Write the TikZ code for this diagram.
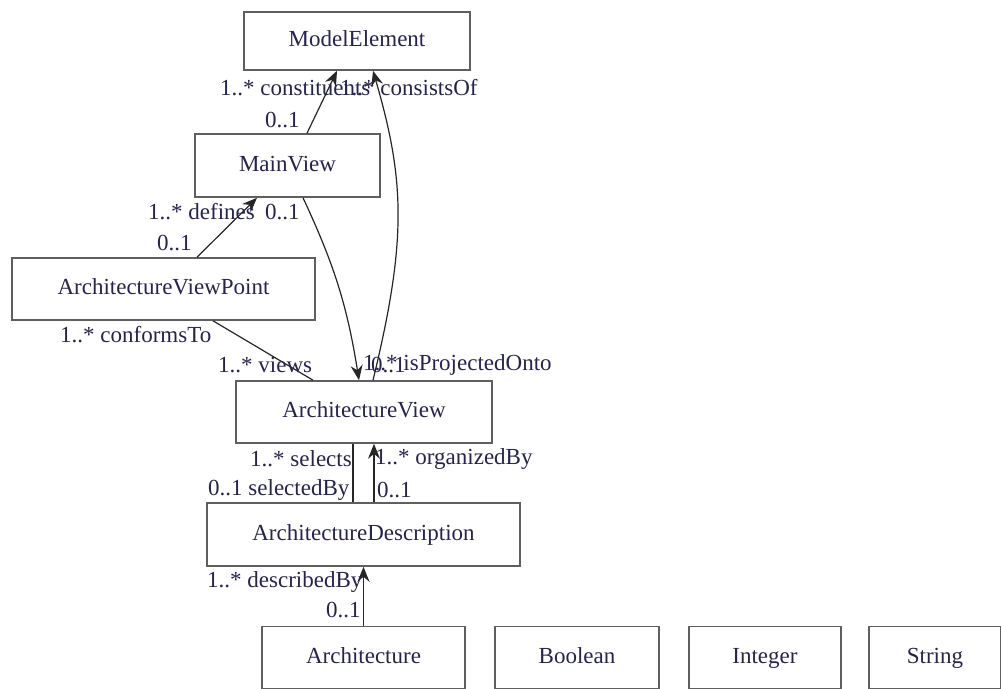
\documentclass[tikz,border=0pt]{standalone}
\usepackage{fontspec}
\setmainfont{Liberation Serif}
\usetikzlibrary{arrows.meta}
\definecolor{boxgray}{RGB}{95,95,95}
\definecolor{inkblue}{RGB}{38,36,72}
\tikzset{
  cls/.style={draw=boxgray,line width=1.6pt,inner sep=0pt,text=inkblue,text height=16pt,text depth=5pt},
  role/.style={inner sep=0pt,anchor=west,text=inkblue},
  assoc/.style={draw=black!85,line width=1.2pt},
  nav/.style={assoc,-{Stealth[length=15pt,width=12pt,inset=5pt]}},
}
\begin{document}
\begin{tikzpicture}[x=1pt,y=-1pt,font=\fontsize{23}{25}\selectfont]
  \useasboundingbox (0,0) rectangle (1001,688);
  \node[cls,minimum width=226pt,minimum height=58pt] (me) at (357,41) {ModelElement};
  \node[cls,minimum width=185pt,minimum height=63pt] (mv) at (287.5,165.5) {MainView};
  \node[cls,minimum width=303pt,minimum height=62pt] (avp) at (163.5,289) {ArchitectureViewPoint};
  \node[cls,minimum width=256pt,minimum height=62pt] (av) at (364,412) {ArchitectureView};
  \node[cls,minimum width=313pt,minimum height=63pt] (ad) at (363.5,534.5) {ArchitectureDescription};
  \foreach \n/\x/\w/\t in {arch/363.5/203/Architecture, bool/577/164/Boolean, int/765/152/Integer, str/935/132/String} {
    \node[cls,minimum width=\w pt,minimum height=62pt] (\n) at (\x,657.5) {\t};
  }
  \draw[nav] ([xshift=19.5pt]mv.north) -- ([xshift=-20pt]me.south);
  \draw[nav] ([xshift=9pt]av.north) .. controls +(34,-140) and +(32,110) .. ([xshift=16pt]me.south);
  \draw[nav] ([xshift=15.5pt]mv.south) to[bend left=8] ([xshift=-5pt]av.north);
  \draw[nav] ([xshift=33.5pt]avp.north) -- ([xshift=-30.5pt]mv.south);
  \draw[assoc] ([xshift=49.5pt]avp.south) -- ([xshift=-51pt]av.north);
  \draw[assoc] ([xshift=-10.5pt]ad.north) -- ([xshift=-11pt]av.south);
  \draw[nav] ([xshift=10.5pt]ad.north) -- ([xshift=10pt]av.south);
  \draw[nav] (arch.north) -- (ad.south);
  \node[role] (r1) at (220,88) {1..* constituents};
  \node[role] (r2) at (340,88) {1..* consistsOf};
  \node[role] (r3) at (265,120) {0..1};
  \node[role] (r4) at (148,212) {1..* defines};
  \node[role] (r5) at (265,212) {0..1};
  \node[role] (r6) at (157,243) {0..1};
  \node[role] (r7) at (60,335) {1..* conformsTo};
  \node[role] (r8) at (218,365) {1..* views};
  \node[role] (r9) at (363,365) {1..* isProjectedOnto};
  \node[role] (r10) at (371,365) {0..1};
  \node[role] (r11) at (250,459) {1..* selects};
  \node[role] (r12) at (375,459) {1..* organizedBy};
  \node[role] (r13) at (208,490) {0..1 selectedBy};
  \node[role] (r14) at (377,490) {0..1};
  \node[role] (r15) at (207,582) {1..* describedBy};
  \node[role] (r16) at (326,610) {0..1};
\end{tikzpicture}
\end{document}
